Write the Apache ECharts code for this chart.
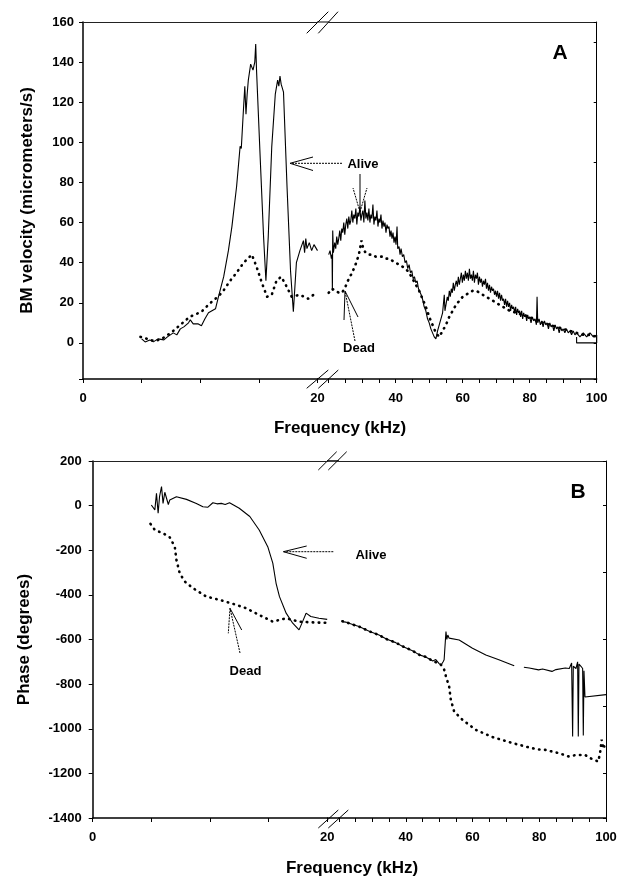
<!DOCTYPE html>
<html>
<head>
<meta charset="utf-8">
<script src="https://cdn.jsdelivr.net/npm/echarts@6/dist/echarts.min.js"></script>
<style>
  * { margin: 0; padding: 0; }
  body { background: #fff; }
</style>
</head>
<body>
<div id="main" style="width: 623px;height: 880px;"></div>
<script>
// A: BM velocity, 0-20 kHz part of the broken axis
var aliveVelLow = [[5.0,2],[5.3,0.5],[5.7,1.5],[6.0,0.5],[6.4,2],[6.9,1.5],[7.2,3],[7.7,5],[8.0,4],[8.3,7],[8.6,8],[9.0,10],[9.15,11.5],[9.4,9.5],[9.8,9.5],[10.1,8.5],[10.4,12],[10.7,15],[11.0,16],[11.3,17],[11.55,23],[12.0,33],[12.4,46],[12.7,58],[13.1,78],[13.4,98],[13.5,97],[13.7,118],[13.8,128],[13.9,114],[14.0,124],[14.1,131],[14.3,139],[14.5,136],[14.65,140],[14.73,149],[14.8,136],[15.1,94],[15.4,53],[15.6,31],[15.8,53],[16.1,98],[16.4,124],[16.6,131],[16.7,128],[16.8,133],[16.9,129],[17.1,125],[17.4,78],[17.7,36],[17.94,15.5],[18.2,40],[18.5,46],[18.8,51],[18.9,45],[19.0,52],[19.1,47],[19.3,50],[19.5,46],[19.7,49],[20,46]];
var deadVelLow = [[4.9,3],[5.5,2],[6.0,1],[6.5,1.5],[7.0,3],[7.7,6],[8.5,10],[9.1,13],[10.1,15.5],[10.8,19.6],[11.5,23],[11.9,25.4],[12.55,31],[13.1,35],[13.7,40],[14.4,44],[14.8,38],[15.25,30],[15.7,23],[16.1,24],[16.5,31],[16.9,33],[17.2,30],[17.8,23],[18.5,24],[19.2,22],[19.9,25]];
// A: 20-100 kHz part
var aliveVelHigh = [[20.0,44],[20.4,46],[20.8,42],[21.0,44],[21.1,26],[21.2,56],[21.4,45],[21.8,50],[22.1,47],[22.4,53],[22.7,49],[23.0,52],[23.3,56],[23.6,51],[23.9,57],[24.2,55],[24.5,60],[24.8,54],[25.1,59],[25.4,62],[25.7,57],[26.0,63],[26.3,59],[26.6,61],[26.9,66],[27.2,60],[27.5,64],[27.8,62],[28.1,67],[28.4,59],[28.7,65],[29.0,63],[29.3,68],[29.6,61],[29.9,64],[30.2,66],[30.5,60],[30.8,71],[31.1,62],[31.4,65],[31.7,61],[32.0,67],[32.3,60],[32.6,64],[32.9,62],[33.2,69],[33.5,59],[33.8,63],[34.1,61],[34.4,66],[34.7,58],[35.0,62],[35.3,60],[35.6,64],[35.9,57],[36.2,61],[36.5,58],[36.8,60],[37.1,55],[37.4,59],[37.7,57],[38.0,58],[38.3,53],[38.6,56],[38.9,52],[39.2,55],[39.5,50],[39.8,53],[40.1,49],[40.4,58],[40.6,47],[41.0,48],[41.3,44],[41.6,47],[42.0,43],[42.4,44],[42.8,40],[43.2,41],[43.6,37],[44.0,39],[44.4,35],[44.8,36],[45.2,32],[45.6,33],[46.0,30],[46.4,31],[46.8,27],[47.2,27],[47.6,24],[48.0,22],[48.5,18],[49.0,16],[49.5,12],[50.0,10],[50.5,7],[51.0,5],[51.5,3],[52.0,2],[52.5,6],[53.0,9],[53.5,12],[54.0,15],[54.5,24],[54.7,16],[55.1,20],[55.4,23],[55.7,21],[56.0,26],[56.3,23],[56.6,27],[56.9,25],[57.2,30],[57.5,26],[57.8,29],[58.1,31],[58.4,28],[58.7,33],[59.0,29],[59.3,32],[59.6,35],[59.9,30],[60.2,34],[60.5,31],[60.8,36],[61.1,32],[61.4,35],[61.7,31],[62.0,37],[62.3,32],[62.6,34],[62.9,31],[63.2,36],[63.5,30],[63.8,34],[64.1,32],[64.4,35],[64.7,29],[65.0,33],[65.3,30],[65.6,32],[65.9,28],[66.2,31],[66.5,29],[66.8,32],[67.1,27],[67.4,30],[67.7,26],[68.0,29],[68.3,25],[68.6,28],[68.9,26],[69.2,27],[69.5,24],[69.8,26],[70.1,23],[70.4,26],[70.7,22],[71.0,25],[71.3,21],[71.6,24],[71.9,21],[72.2,22],[72.5,19],[72.8,22],[73.1,18],[73.4,21],[73.7,18],[74.0,20],[74.3,16],[74.6,19],[74.9,17],[75.2,18],[75.5,15],[75.8,18],[76.1,14],[76.4,17],[76.7,15],[77.0,16],[77.3,13],[77.6,16],[77.9,12],[78.2,15],[78.5,13],[78.8,14],[79.1,11],[79.4,14],[79.7,12],[80.0,13],[80.4,10],[80.8,13],[81.2,11],[81.6,12],[82.0,9],[82.2,23],[82.4,10],[82.8,12],[83.2,9],[83.6,11],[84.0,8],[84.4,11],[84.8,9],[85.2,10],[85.6,7],[86.0,10],[86.4,8],[86.8,9],[87.2,6],[87.6,9],[88.0,7],[88.4,8],[88.8,5],[89.2,8],[89.6,6],[90.0,7],[90.5,5],[91.0,7],[91.5,5],[92.0,6],[92.5,4],[93.0,6],[93.5,4],[94,5],[95,3],[96,5],[97,3],[98,5],[99,3],[100,4],[100,0],[94,0],[94,3]];
var deadVelHigh = [[20,25],[21,27],[22,26],[23,25],[24,25],[25,28],[26,32],[27,35],[28,39],[29,44],[29.8,51],[30.3,47],[31,45],[32,44],[33,44],[34,43],[35,43],[36,43],[37,42],[38,42],[39,41],[40,40],[41,39],[42,38],[43,37],[44,35],[45,32],[46,29],[47,26],[48,22],[49,18],[50,13],[51,9],[52,5],[53,3],[54,6],[55,9],[56,13],[57,16],[58,19],[59,21],[60,23],[61,24],[62,25],[63,26],[64,26],[65,25],[66,24],[67,23],[68,22],[69,21],[70,20],[71,19],[72,18],[74,16],[76,15],[78,14],[80,13],[82,11],[84,10],[86,9],[88,8],[90,7],[92,6],[94,5],[96,4],[98,4],[100,3]];

// B: phase
var alivePhaseLow = [[5.0,3],[5.3,-19],[5.44,55],[5.58,-34],[5.7,40],[5.87,85],[6.0,10],[6.15,60],[6.3,55],[6.45,5],[6.57,25],[7.14,40],[8.0,28],[8.84,10],[9.4,-5],[9.83,-7],[10.25,13],[10.6,8],[10.97,10],[11.3,5],[11.67,13],[12.5,-12],[13.4,-49],[14.2,-109],[14.93,-184],[15.36,-258],[15.64,-348],[15.93,-408],[16.5,-482],[17.06,-527],[17.6,-557],[17.9,-520],[18.2,-482],[18.6,-497],[19.3,-505],[20,-510]];
var deadPhaseLow = [[4.93,-82],[5.3,-109],[6.0,-124],[6.57,-142],[7.0,-184],[7.14,-243],[7.42,-303],[7.85,-340],[8.55,-370],[9.7,-408],[10.8,-422],[11.96,-440],[13.1,-460],[14.2,-490],[15.36,-520],[16.5,-505],[17.6,-520],[19.05,-524],[20,-525]];
var alivePhaseHigh = [[21,-520],[22,-522],[24.3,-534],[26,-542],[29.2,-564],[32,-580],[34.2,-598],[37,-614],[39.1,-631],[42,-650],[44.1,-669],[46,-678],[48.1,-696],[49,-690],[50,-708],[50.6,-714],[51.2,-700],[51.5,-691],[52.05,-564],[52.3,-600],[52.6,-580],[53,-594],[56,-602],[60,-639],[64,-669],[67.9,-691],[71.9,-714],[72.5,-718],[73,'-'],[75.4,-724],[77,-728],[79.8,-736],[81,-732],[83.8,-743],[85,-735],[87.8,-728],[89,-730],[89.7,-705],[90.0,-1035],[90.2,-720],[91,-730],[91.5,-700],[91.7,-1035],[91.9,-710],[92.5,-720],[93,-730],[93.2,-1030],[93.4,-740],[93.7,-858],[100,-847]];
var deadPhaseHigh = [[21,-518],[22,-522],[24.3,-534],[26,-542],[29.2,-564],[32,-580],[34.2,-598],[37,-614],[39.1,-631],[42,-650],[44.1,-669],[46,-678],[48.1,-696],[50,-708],[50.6,-714],[51.5,-735],[52.05,-766],[53,-811],[53.5,-870],[54.5,-923],[57,-960],[61,-1005],[65.9,-1037],[71.9,-1064],[77.8,-1087],[80,-1093],[82,-1095],[83.8,-1102],[86,-1110],[88.75,-1124],[91,-1118],[93.7,-1117],[95,-1130],[96.5,-1140],[97.7,-1147],[98.3,-1100],[98.7,-1049],[99.2,-1090],[99.5,-1079]];

var font = '"Liberation Sans", Arial, sans-serif';
var charts = echarts.init(document.getElementById('main'), null, {renderer: 'canvas'});

function bottomX(grid, min, max, showLabel) {
    return {
        type: 'value', gridIndex: grid, position: 'bottom', min: min, max: max, interval: 5,
        axisLine: {show: true, onZero: false, lineStyle: {color: '#000', width: 1.5}},
        axisTick: {show: true, length: 4, lineStyle: {color: '#000'}},
        axisLabel: {
            margin: 13, color: '#000', fontFamily: font, fontWeight: 'bold', fontSize: 13,
            formatter: function (v) { return showLabel(v) ? String(v) : ''; }
        },
        splitLine: {show: false}
    };
}
function topX(grid, min, max) {
    return {
        type: 'value', gridIndex: grid, position: 'top', min: min, max: max,
        axisLine: {show: true, onZero: false, lineStyle: {color: '#222', width: 1}},
        axisTick: {show: false}, axisLabel: {show: false}, splitLine: {show: false}
    };
}
function rightY(grid, min, max) {
    return {
        type: 'value', gridIndex: grid, position: 'right', min: min, max: max,
        axisLine: {show: true, onZero: false, lineStyle: {color: '#000', width: 1}},
        axisTick: {show: true, inside: true, length: 3, lineStyle: {color: '#000'}},
        axisLabel: {show: false}, splitLine: {show: false}
    };
}
function solid(x, y, data) {
    return {type: 'line', xAxisIndex: x, yAxisIndex: y, data: data, symbol: 'none', silent: true,
        lineStyle: {color: '#000', width: 1.1}};
}
function dotted(x, y, data) {
    return {type: 'line', xAxisIndex: x, yAxisIndex: y, data: data, symbol: 'none', silent: true,
        lineStyle: {color: '#000', width: 2.6, type: [0.5, 5.5], cap: 'round'}};
}
function seg(x1, y1, x2, y2, w, dash) {
    return {type: 'line', shape: {x1: x1, y1: y1, x2: x2, y2: y2}, silent: true,
        style: {stroke: '#000', lineWidth: w || 1, lineDash: dash || null}};
}
function label(x, y, text, size) {
    return {type: 'text', x: x, y: y, silent: true,
        style: {text: text, fill: '#000', font: 'bold ' + size + 'px ' + font, align: 'center', verticalAlign: 'middle'}};
}

var ends = function (v) { return v === 0 || v === 20; };
var tens = function (v) { return v % 20 === 0 && v !== 20; };

var graphics = [
    // axis line across the break, and the // marks
    seg(317, 379, 329, 379, 1.5), seg(317, 22, 329, 22, 1),
    seg(306.7, 388.3, 328.3, 370), seg(318.3, 388.3, 338.3, 370),
    seg(306.7, 33.3, 328.3, 11.7), seg(318.3, 33.3, 338, 11.7),
    seg(327, 818, 339, 818, 1.5), seg(327, 461, 339, 461, 1.5),
    seg(318.3, 828, 338.3, 810), seg(328.3, 828, 348.3, 810),
    seg(318.3, 470, 336.7, 451.7), seg(328.3, 470, 346.7, 451.7),
    // panel A annotations
    label(363, 164.5, 'Alive', 13),
    seg(342, 163.3, 291, 163.3, 1, [2, 1]),
    seg(290, 163.3, 313, 157, 1), seg(290, 163.3, 313, 170.5, 1),
    seg(360, 174, 360, 212, 1),
    seg(360, 212, 353, 188, 1, [2, 1]), seg(360, 212, 367, 188, 1, [2, 1]),
    label(359, 348, 'Dead', 13),
    seg(355, 341, 345, 291, 1, [2, 1]),
    seg(345, 291, 344, 320, 1), seg(345, 291, 358, 317, 1),
    label(560, 53, 'A', 21),
    // panel B annotations
    label(371, 555.5, 'Alive', 13),
    seg(333.3, 551.7, 284, 551.7, 1, [2, 1]),
    seg(283.3, 551.7, 306.7, 546, 1), seg(283.3, 551.7, 306.7, 558.3, 1),
    label(245.5, 671, 'Dead', 13),
    seg(240, 653, 230, 608.3, 1, [2, 1]),
    seg(230, 608.3, 228.3, 633.3, 1, [2, 1]), seg(230, 608.3, 241.7, 630, 1),
    label(578, 492, 'B', 21),
    // shared x titles
    label(340, 428, 'Frequency (kHz)', 17),
    label(352, 868, 'Frequency (kHz)', 17)
];

charts.setOption({
    animation: false,
    backgroundColor: '#fff',
    grid: [
        {left: 83, top: 22, width: 234.5, height: 357},
        {left: 328.7, top: 22, width: 268, height: 357},
        {left: 92.7, top: 461, width: 234.5, height: 357},
        {left: 339, top: 461, width: 267, height: 357}
    ],
    xAxis: [
        bottomX(0, 0, 20, ends), bottomX(1, 20, 100, tens),
        bottomX(2, 0, 20, ends), bottomX(3, 20, 100, tens),
        topX(0, 0, 20), topX(1, 20, 100), topX(2, 0, 20), topX(3, 20, 100)
    ],
    yAxis: [
        {
            type: 'value', gridIndex: 0, min: -18, max: 160, splitNumber: 9,
            name: 'BM velocity (micrometers/s)', nameLocation: 'middle', nameGap: 47,
            nameTextStyle: {color: '#000', fontFamily: font, fontWeight: 'bold', fontSize: 17},
            axisLine: {show: true, onZero: false, lineStyle: {color: '#000', width: 1.5}},
            axisTick: {show: true, length: 4, lineStyle: {color: '#000'}},
            axisLabel: {margin: 9, color: '#000', fontFamily: font, fontWeight: 'bold', fontSize: 13,
                formatter: function (v) { return v % 20 === 0 ? String(v) : ''; }},
            splitLine: {show: false}
        },
        rightY(1, -18, 160),
        {
            type: 'value', gridIndex: 2, min: -1400, max: 200, interval: 200,
            name: 'Phase (degrees)', nameLocation: 'middle', nameGap: 60,
            nameTextStyle: {color: '#000', fontFamily: font, fontWeight: 'bold', fontSize: 17},
            axisLine: {show: true, onZero: false, lineStyle: {color: '#000', width: 1.5}},
            axisTick: {show: true, length: 4, lineStyle: {color: '#000'}},
            axisLabel: {margin: 11, color: '#000', fontFamily: font, fontWeight: 'bold', fontSize: 13,
                formatter: function (v) { return String(v); }},
            splitLine: {show: false}
        },
        rightY(3, -1400, 200)
    ],
    graphic: graphics,
    series: [
        solid(0, 0, aliveVelLow), dotted(0, 0, deadVelLow),
        solid(1, 1, aliveVelHigh), dotted(1, 1, deadVelHigh),
        solid(2, 2, alivePhaseLow), dotted(2, 2, deadPhaseLow),
        solid(3, 3, alivePhaseHigh), dotted(3, 3, deadPhaseHigh)
    ]
});
</script>
</body>
</html>
